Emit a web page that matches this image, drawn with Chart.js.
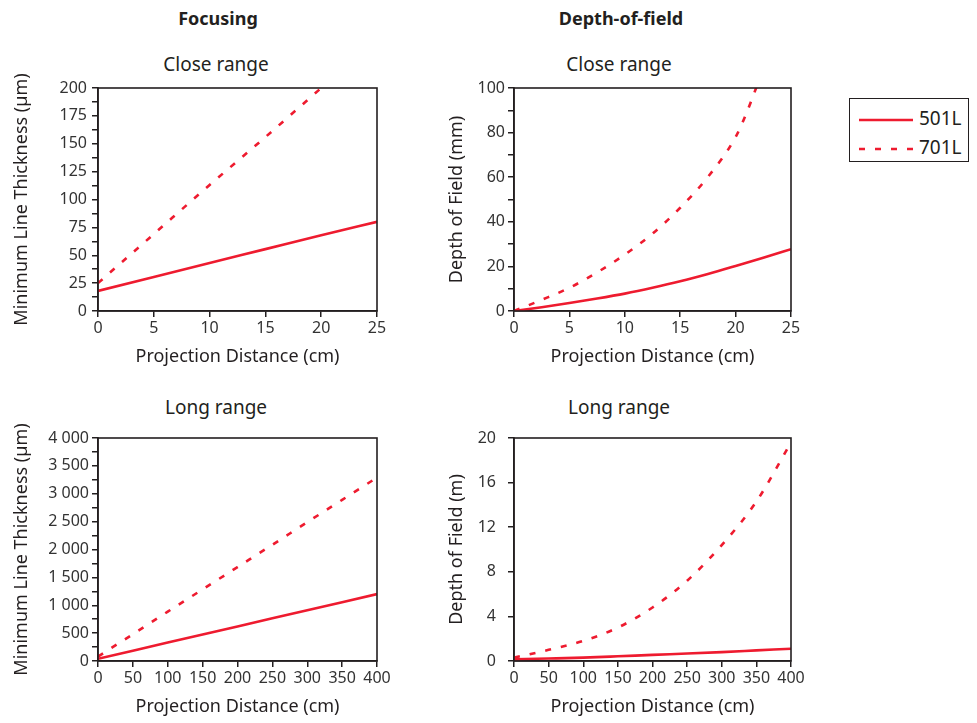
<!DOCTYPE html>
<html lang="en">
<head>
<meta charset="UTF-8">
<title>Focusing / Depth-of-field</title>
<style>
  body { margin: 0; background: #fff; width: 977px; height: 723px; overflow: hidden; position: relative; font-family: 'Noto Sans', sans-serif; color: #231f20; }
  canvas { position: absolute; }
  .head { position: absolute; width: 240px; text-align: center; font-weight: bold; font-size: 18px; line-height: 24px; }
  .sub { position: absolute; width: 240px; text-align: center; font-size: 19px; line-height: 26px; }
  #legend { position: absolute; left: 849px; top: 98px; width: 118px; height: 62px; border: 1px solid #231f20; }
  #legend div { position: absolute; left: 9px; height: 26px; line-height: 26px; font-size: 19px; }
  #legend svg { vertical-align: middle; margin-right: 6px; }
</style>
</head>
<body>
<div class="head" style="left:98px;top:6px">Focusing</div>
<div class="head" style="left:501px;top:6px">Depth-of-field</div>
<div class="sub" style="left:96px;top:51px">Close range</div>
<div class="sub" style="left:499px;top:51px">Close range</div>
<div class="sub" style="left:96px;top:394px">Long range</div>
<div class="sub" style="left:499px;top:394px">Long range</div>

<canvas id="focusClose" width="400" height="321" style="left:0;top:48px"></canvas>
<canvas id="dofClose" width="384" height="321" style="left:430px;top:48px"></canvas>
<canvas id="focusLong" width="400" height="321" style="left:0;top:398px"></canvas>
<canvas id="dofLong" width="384" height="321" style="left:430px;top:398px"></canvas>

<div id="legend">
  <div style="top:6px"><svg width="54" height="6"><line x1="0" y1="3" x2="54" y2="3" stroke="#ee1b2f" stroke-width="2.6"/></svg>501L</div>
  <div style="top:35px"><svg width="54" height="6"><line x1="0" y1="3" x2="54" y2="3" stroke="#ee1b2f" stroke-width="2.6" stroke-dasharray="6 10"/></svg>701L</div>
</div>

<script src="https://cdn.jsdelivr.net/npm/chart.js"></script>
<script>
// x positions (cm)
const closeX = [0, 5, 10, 15, 20, 25];
const dofCloseX = [0, 2.5, 5, 7.5, 10, 12.5, 15, 17.5, 20, 22.5, 25];
const dofCloseX701 = [0, 2.5, 5, 7.5, 10, 12.5, 15, 17.5, 20, 21, 22, 23];
const longX = [0, 50, 100, 150, 200, 250, 300, 350, 400];

// focusing: minimum line thickness (um)
const focusClose501 = [18, 30.5, 43, 55.5, 68, 80];
const focusClose701 = [25, 69, 113, 156, 200, 244];
const focusLong501 = [40, 185, 330, 475, 620, 765, 910, 1055, 1200];
const focusLong701 = [80, 480, 885, 1285, 1685, 2085, 2490, 2890, 3290];

// depth of field (mm, then m)
const dofClose501 = [0, 1.7, 3.6, 5.6, 7.8, 10.4, 13.3, 16.6, 20.2, 23.9, 27.7];
const dofClose701 = [0, 5, 10.4, 17.3, 25.3, 34.7, 46.3, 60.1, 78, 89, 102, 116];
const dofLong501 = [0.15, 0.22, 0.3, 0.42, 0.55, 0.67, 0.8, 0.95, 1.1];
const dofLong701 = [0.3, 1.0, 1.8, 3.0, 4.8, 7.2, 10.4, 14.3, 19.6];

// labelled y ticks (the other ticks are unlabelled minor marks)
const focusCloseLabels = [0, 25, 50, 75, 100, 125, 150, 175, 200];
const dofCloseLabels = [0, 20, 40, 60, 80, 100];
const focusLongLabels = [0, 500, 1000, 1500, 2000, 2500, 3000, 3500, 4000];
const dofLongLabels = [0, 4, 8, 12, 16, 20];

const red = '#ee1b2f';
const ink = '#231f20';
Chart.defaults.font.family = "'Noto Sans', sans-serif";
Chart.defaults.color = '#333';

const frame = {
  id: 'frame',
  afterDatasetsDraw(chart) {
    const a = chart.chartArea, c = chart.ctx;
    c.save();
    c.strokeStyle = ink;
    c.lineWidth = 1.6;
    c.strokeRect(a.left, a.top, a.right - a.left, a.bottom - a.top);
    c.restore();
  }
};

function pts(xs, ys) {
  return xs.map((x, i) => ({ x: x, y: ys[i] }));
}

function spaced(v) {
  return String(v).replace(/\B(?=(\d{3})+(?!\d))/g, ' ');
}

function makeChart(id, o) {
  new Chart(document.getElementById(id), {
    type: 'line',
    data: {
      datasets: [
        { label: '501L', data: pts(o.x501, o.y501), borderColor: red, borderWidth: 2.6, pointRadius: 0, cubicInterpolationMode: 'monotone' },
        { label: '701L', data: pts(o.x701, o.y701), borderColor: red, borderWidth: 2.6, borderDash: [6, 10], pointRadius: 0, cubicInterpolationMode: 'monotone' }
      ]
    },
    options: {
      responsive: false,
      animation: false,
      layout: { padding: { left: 0, top: 40, right: 23, bottom: 0 } },
      plugins: { legend: { display: false }, tooltip: { enabled: false } },
      scales: {
        x: {
          type: 'linear', min: 0, max: o.xMax,
          ticks: { stepSize: o.xStep, autoSkip: false, maxRotation: 0, padding: 2, font: { size: 16 } },
          grid: { drawOnChartArea: false, tickLength: 6, color: ink, lineWidth: 1.5 },
          border: { display: true, color: ink, width: 1.6 },
          title: { display: true, text: 'Projection Distance (cm)', color: ink, font: { size: 18 }, padding: { top: 0, bottom: 1 } },
          afterFit(s) { s.height = 58; s.paddingLeft = 0; s.paddingRight = 0; }
        },
        y: {
          type: 'linear', min: 0, max: o.yMax,
          ticks: {
            stepSize: o.yStep, autoSkip: false, padding: o.tickPad, font: { size: 16 },
            callback: v => o.labels.includes(v) ? (o.fmt ? o.fmt(v) : v) : ''
          },
          grid: { drawOnChartArea: false, tickLength: 6, color: ink, lineWidth: 1.5 },
          border: { display: true, color: ink, width: 1.6 },
          title: { display: true, text: o.yTitle, color: ink, font: { size: 18 }, padding: { top: o.titlePad, bottom: 0 } },
          afterFit(s) { s.width = o.yWidth; s.paddingTop = 0; s.paddingBottom = 0; }
        }
      }
    },
    plugins: [frame]
  });
}

makeChart('focusClose', {
  x501: closeX, y501: focusClose501, x701: closeX, y701: focusClose701,
  xMax: 25, xStep: 5, yMax: 200, yStep: 12.5, labels: focusCloseLabels,
  yTitle: 'Minimum Line Thickness (µm)', yWidth: 98, tickPad: 5, titlePad: 11
});
makeChart('dofClose', {
  x501: dofCloseX, y501: dofClose501, x701: dofCloseX701, y701: dofClose701,
  xMax: 25, xStep: 5, yMax: 100, yStep: 10, labels: dofCloseLabels,
  yTitle: 'Depth of Field (mm)', yWidth: 84, tickPad: 3, titlePad: 16
});
makeChart('focusLong', {
  x501: longX, y501: focusLong501, x701: longX, y701: focusLong701,
  xMax: 400, xStep: 50, yMax: 4000, yStep: 250, labels: focusLongLabels, fmt: spaced,
  yTitle: 'Minimum Line Thickness (µm)', yWidth: 98, tickPad: 3, titlePad: 11
});
makeChart('dofLong', {
  x501: longX, y501: dofLong501, x701: longX, y701: dofLong701,
  xMax: 400, xStep: 50, yMax: 20, yStep: 4, labels: dofLongLabels,
  yTitle: 'Depth of Field (m)', yWidth: 84, tickPad: 12, titlePad: 16
});
</script>
</body>
</html>
